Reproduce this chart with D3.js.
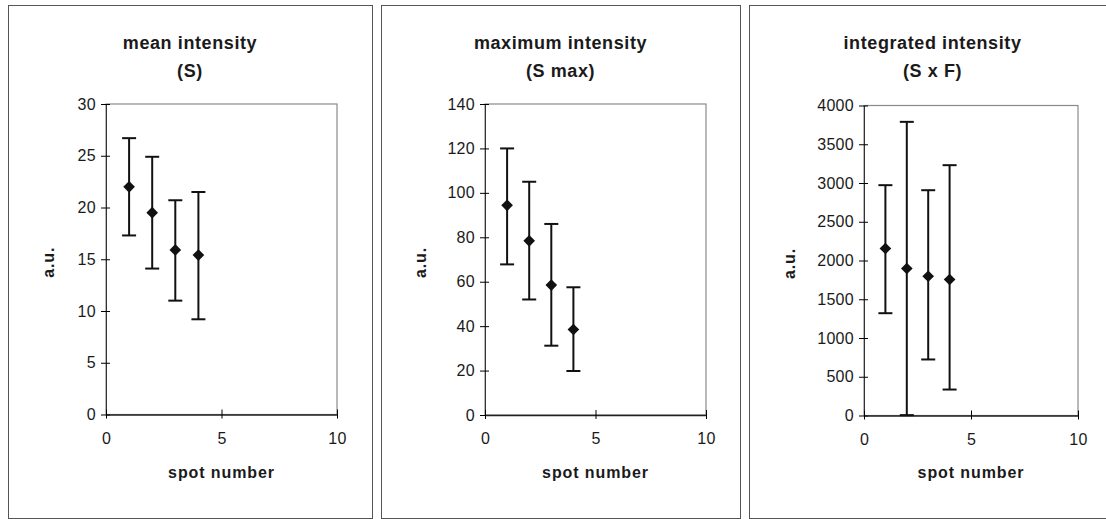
<!DOCTYPE html>
<html>
<head>
<meta charset="utf-8">
<script src="https://cdn.jsdelivr.net/npm/d3@7"></script>
<style>
  body { margin: 0; background: #fff; }
  svg { display: block; }
  text { font-family: "Liberation Sans", Arial, sans-serif; fill: #1a1a1a; }
  .title { font-size: 18px; font-weight: bold; letter-spacing: 0.6px; }
  .axis-label { font-size: 16px; font-weight: bold; letter-spacing: 0.9px; }
  .tick text { font-size: 16px; letter-spacing: 0.3px; }
</style>
</head>
<body>
<div id="chart"></div>
<script>
// spot numbers on the x axis
const spots = [1, 2, 3, 4];
const xTicks = [0, 5, 10];

// mean intensity (S)
const meanValues = [22.0, 19.5, 15.9, 15.4];
const meanLow = [17.3, 14.1, 11.0, 9.2];
const meanHigh = [26.7, 24.9, 20.7, 21.5];
const meanTicks = [0, 5, 10, 15, 20, 25, 30];

// maximum intensity (S max)
const maxValues = [94.4, 78.4, 58.5, 38.5];
const maxLow = [67.8, 52.0, 31.2, 19.8];
const maxHigh = [120, 105, 86, 57.5];
const maxTicks = [0, 20, 40, 60, 80, 100, 120, 140];

// integrated intensity (S x F)
const intValues = [2155, 1897, 1797, 1755];
const intLow = [1320, 5, 723, 335];
const intHigh = [2972, 3789, 2907, 3230];
const intTicks = [0, 500, 1000, 1500, 2000, 2500, 3000, 3500, 4000];

const WIDTH = 1106, HEIGHT = 519;

// one entry per panel: texts, data and where it sits on the page
const panels = [
    { title: ['mean intensity', '(S)'], values: meanValues, low: meanLow, high: meanHigh, ticks: meanTicks,
      box: [8, 5, 372, 518], plot: [106, 104, 337, 414.5], yLabelX: 53 },
    { title: ['maximum intensity', '(S max)'], values: maxValues, low: maxLow, high: maxHigh, ticks: maxTicks,
      box: [381, 5, 740, 518], plot: [485, 104, 706, 415], yLabelX: 425 },
    { title: ['integrated intensity', '(S x F)'], values: intValues, low: intLow, high: intHigh, ticks: intTicks,
      box: [749, 5, 1116, 518], plot: [864, 105.5, 1078, 415.5], yLabelX: 794 }
];

const svg = d3.select('#chart').append('svg')
    .attr('width', WIDTH)
    .attr('height', HEIGHT);

/**
 * Draw one panel with its frame, axes and error bars
 */
const drawPanel = (p) => {
    const [bx0, by0, bx1, by1] = p.box;
    const [px0, py0, px1, py1] = p.plot;
    const g = svg.append('g');

    // outer frame
    g.append('rect')
        .attr('x', bx0 + 0.5).attr('y', by0 + 0.5)
        .attr('width', bx1 - bx0).attr('height', by1 - by0)
        .attr('fill', 'none').attr('stroke', '#555').attr('stroke-width', 1);

    const xScale = d3.scaleLinear().domain([0, 10]).range([px0, px1]);
    const yScale = d3.scaleLinear().domain([0, d3.max(p.ticks)]).range([py1, py0]);

    // plot area border
    g.append('rect')
        .attr('x', px0).attr('y', py0)
        .attr('width', px1 - px0).attr('height', py1 - py0)
        .attr('fill', 'none').attr('stroke', '#8a8a8a').attr('stroke-width', 1.2);

    // title, two lines
    const cx = (bx0 + bx1) / 2;
    g.append('text').attr('class', 'title')
        .attr('x', cx).attr('y', 49).attr('text-anchor', 'middle')
        .text(p.title[0]);
    g.append('text').attr('class', 'title')
        .attr('x', cx).attr('y', 77).attr('text-anchor', 'middle')
        .text(p.title[1]);

    // y axis
    const yAxis = g.append('g')
        .attr('transform', `translate(${px0},0)`)
        .call(d3.axisLeft(yScale).tickValues(p.ticks).tickFormat(d3.format('d'))
            .tickSize(5).tickPadding(5).tickSizeOuter(0));
    yAxis.selectAll('.tick line').attr('x1', 4);
    yAxis.select('.domain').attr('stroke', '#333');

    // x axis
    const xAxis = g.append('g')
        .attr('transform', `translate(0,${py1})`)
        .call(d3.axisBottom(xScale).tickValues(xTicks).tickSize(4).tickSizeOuter(0));
    xAxis.selectAll('.tick line').attr('y1', -5);
    xAxis.selectAll('.tick text').attr('dy', null).attr('y', 29);
    xAxis.select('.domain').attr('stroke', '#222').attr('stroke-width', 1.3);

    // axis labels
    g.append('text').attr('class', 'axis-label')
        .attr('x', (px0 + px1) / 2).attr('y', 478).attr('text-anchor', 'middle')
        .text('spot number');
    g.append('text').attr('class', 'axis-label')
        .attr('transform', `translate(${p.yLabelX + 1},${(py0 + py1) / 2 + 3}) rotate(-90)`)
        .attr('text-anchor', 'middle')
        .text('a.u.');

    const rows = spots.map((s, i) => ({ x: s, y: p.values[i], lo: p.low[i], hi: p.high[i] }));

    // error bars
    const bars = g.append('g').attr('stroke', '#111').attr('stroke-width', 2);
    bars.selectAll('.stem').data(rows).join('line')
        .attr('x1', d => xScale(d.x)).attr('x2', d => xScale(d.x))
        .attr('y1', d => yScale(d.lo)).attr('y2', d => yScale(d.hi));
    bars.selectAll('.cap-hi').data(rows).join('line')
        .attr('x1', d => xScale(d.x) - 7).attr('x2', d => xScale(d.x) + 7)
        .attr('y1', d => yScale(d.hi)).attr('y2', d => yScale(d.hi));
    bars.selectAll('.cap-lo').data(rows).join('line')
        .attr('x1', d => xScale(d.x) - 7).attr('x2', d => xScale(d.x) + 7)
        .attr('y1', d => yScale(d.lo)).attr('y2', d => yScale(d.lo));

    // diamond markers
    g.selectAll('.pt').data(rows).join('path')
        .attr('d', d3.symbol().type(d3.symbolSquare).size(68))
        .attr('transform', d => `translate(${xScale(d.x)},${yScale(d.y)}) rotate(45)`)
        .attr('fill', '#111');
};

panels.forEach(drawPanel);
</script>
</body>
</html>
